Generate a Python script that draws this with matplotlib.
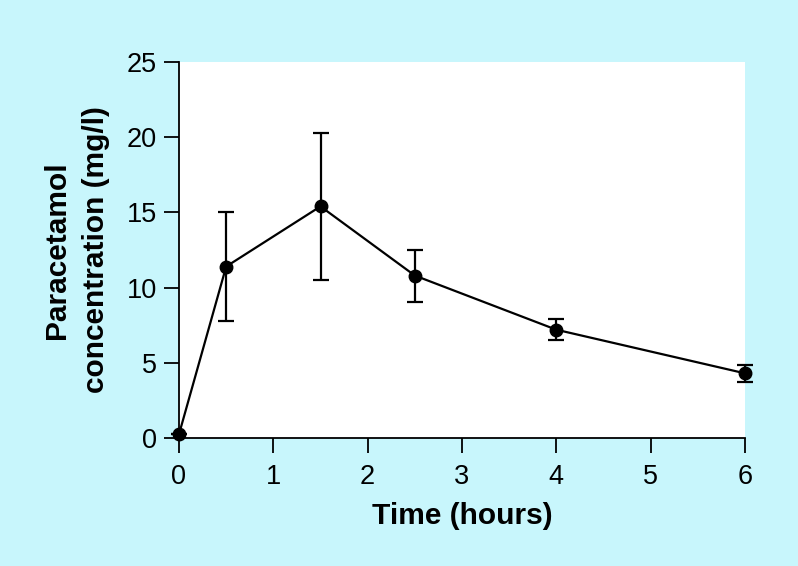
import numpy as np
import matplotlib.pyplot as plt

# paracetamol plasma level after dosing
time_h = [0, 0.5, 1.5, 2.5, 4, 6]
conc = [0.25, 11.4, 15.4, 10.8, 7.2, 4.3]
conc_err = [0, 3.65, 4.9, 1.73, 0.7, 0.55]

x_ticks = [0, 1, 2, 3, 4, 5, 6]
y_ticks = [0, 5, 10, 15, 20, 25]

plt.rcParams['font.family'] = ['Liberation Sans', 'DejaVu Sans']

bg = '#c8f6fc'
fig = plt.figure(figsize=(7.98, 5.66), dpi=100, facecolor=bg)
ax = fig.add_axes([179 / 798, 1 - 438 / 566, (745 - 179) / 798, (438 - 62) / 566])
ax.set_facecolor('white')

ax.errorbar(time_h, conc, yerr=conc_err, color='black', lw=1.6,
            marker='o', ms=9, capsize=5.5, capthick=1.6, elinewidth=1.6,
            clip_on=False, zorder=3)

ax.set_xlim(0, 6)
ax.set_ylim(0, 25)
ax.set_xticks(x_ticks)
ax.set_yticks(y_ticks)
for s in ['top', 'right']:
    ax.spines[s].set_visible(False)
for s in ['left', 'bottom']:
    ax.spines[s].set_linewidth(1.3)
ax.tick_params(direction='out', length=11, width=1.3, labelsize=19.5)
ax.tick_params(axis='y', pad=5)
ax.tick_params(axis='x', pad=8)

ax.set_xlabel('Time (hours)', fontsize=21.5, fontweight='bold', labelpad=8)
ax.set_ylabel('Paracetamol\nconcentration (mg/l)', fontsize=21.5,
              fontweight='bold', labelpad=12, linespacing=1.5)

fig.savefig('out.png', dpi=100, facecolor=bg)
